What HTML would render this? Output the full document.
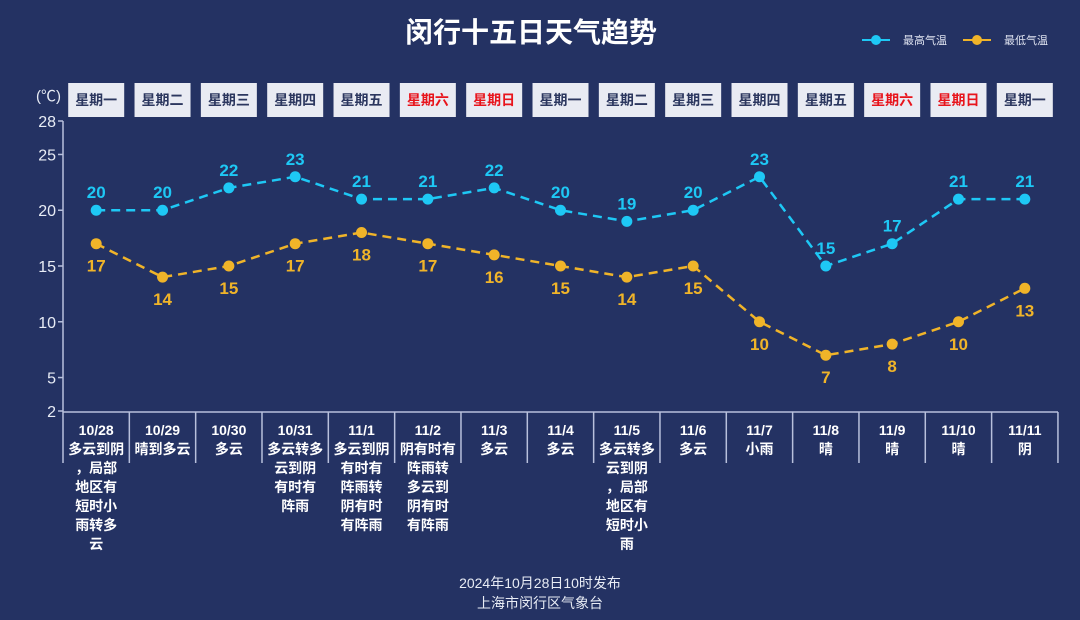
<!DOCTYPE html>
<html><head><meta charset="utf-8"><style>
body{margin:0;background:#243263;}
svg{display:block;font-family:"Liberation Sans","Noto Sans CJK SC",sans-serif;}
</style></head><body>
<svg width="1080" height="620" viewBox="0 0 1080 620">
<rect width="1080" height="620" fill="#243263"/>
<text x="531" y="42" text-anchor="middle" font-size="28" font-weight="bold" fill="#fff">闵行十五日天气趋势</text>
<g font-size="11" fill="#dfe3f0">
<line x1="862" y1="40" x2="890" y2="40" stroke="#1ec8f5" stroke-width="2"/><circle cx="876" cy="40" r="5" fill="#1ec8f5"/>
<text x="903" y="44">最高气温</text>
<line x1="963" y1="40" x2="991" y2="40" stroke="#f0b429" stroke-width="2"/><circle cx="977" cy="40" r="5" fill="#f0b429"/>
<text x="1004" y="44">最低气温</text>
</g>
<text x="36" y="101" font-size="15" fill="#e8ecf5">(℃)</text>
<g id="days" font-size="14" font-weight="bold" text-anchor="middle">
</g>
<g stroke="#b8c0dc" stroke-width="1.5" fill="none">
<line x1="63" y1="121" x2="63" y2="463"/>
<line x1="63" y1="412" x2="1058" y2="412"/>
</g>
<g font-size="16" fill="#e8ecf5" text-anchor="end" id="yt"></g>
<g id="sep" stroke="#b8c0dc" stroke-width="1.5"></g>
<g id="ser"></g>
<g id="cat" font-size="14" font-weight="bold" fill="#fff" text-anchor="middle"></g>
<text x="540" y="588" text-anchor="middle" font-size="14" fill="#e8ecf5">2024年10月28日10时发布</text>
<text x="540" y="608" text-anchor="middle" font-size="14" fill="#e8ecf5">上海市闵行区气象台</text>
</svg>
<script>
var NS="http://www.w3.org/2000/svg";
function el(p,t,a,txt){var e=document.createElementNS(NS,t);for(var k in a)e.setAttribute(k,a[k]);if(txt!=null)e.textContent=txt;document.getElementById(p).appendChild(e);return e;}
var cx=function(i){return 96.2+66.33*i;};
var y=function(v){return 411-(v-2)*290/26;};
var days=["星期一","星期二","星期三","星期四","星期五","星期六","星期日","星期一","星期二","星期三","星期四","星期五","星期六","星期日","星期一"];
days.forEach(function(d,i){
 el("days","rect",{x:cx(i)-28,y:83,width:56,height:34,fill:"#e9ebf3"});
 el("days","text",{x:cx(i),y:105,fill:(d=="星期六"||d=="星期日")?"#e8141c":"#2c375f"},d);
});
[28,25,20,15,10,5,2].forEach(function(v){
 el("yt","text",{x:56,y:y(v)+6},v);
 el("sep","line",{x1:58,y1:y(v),x2:63,y2:y(v)});
});
for(var k=1;k<=15;k++){var x=63+66.33*k;el("sep","line",{x1:x,y1:412,x2:x,y2:463});}
var hi=[20,20,22,23,21,21,22,20,19,20,23,15,17,21,21];
var lo=[17,14,15,17,18,17,16,15,14,15,10,7,8,10,13];
function series(d,c,off){
 var pts=d.map(function(v,i){return cx(i)+","+y(v);}).join(" ");
 el("ser","polyline",{points:pts,fill:"none",stroke:c,"stroke-width":2.5,"stroke-dasharray":"9,6"});
 d.forEach(function(v,i){
  el("ser","circle",{cx:cx(i),cy:y(v),r:5.5,fill:c});
  el("ser","text",{x:cx(i),y:y(v)+off,fill:c,"font-size":17,"font-weight":"bold","text-anchor":"middle"},v);
 });
}
series(hi,"#1ec8f5",-12);
series(lo,"#f0b429",28);
var cats=[["10/28","多云到阴","，局部","地区有","短时小","雨转多","云"],["10/29","晴到多云"],["10/30","多云"],["10/31","多云转多","云到阴","有时有","阵雨"],["11/1","多云到阴","有时有","阵雨转","阴有时","有阵雨"],["11/2","阴有时有","阵雨转","多云到","阴有时","有阵雨"],["11/3","多云"],["11/4","多云"],["11/5","多云转多","云到阴","，局部","地区有","短时小","雨"],["11/6","多云"],["11/7","小雨"],["11/8","晴"],["11/9","晴"],["11/10","晴"],["11/11","阴"]];
cats.forEach(function(c,i){c.forEach(function(t,j){el("cat","text",{x:cx(i),y:435+j*19},t);});});
</script>
</body></html>
